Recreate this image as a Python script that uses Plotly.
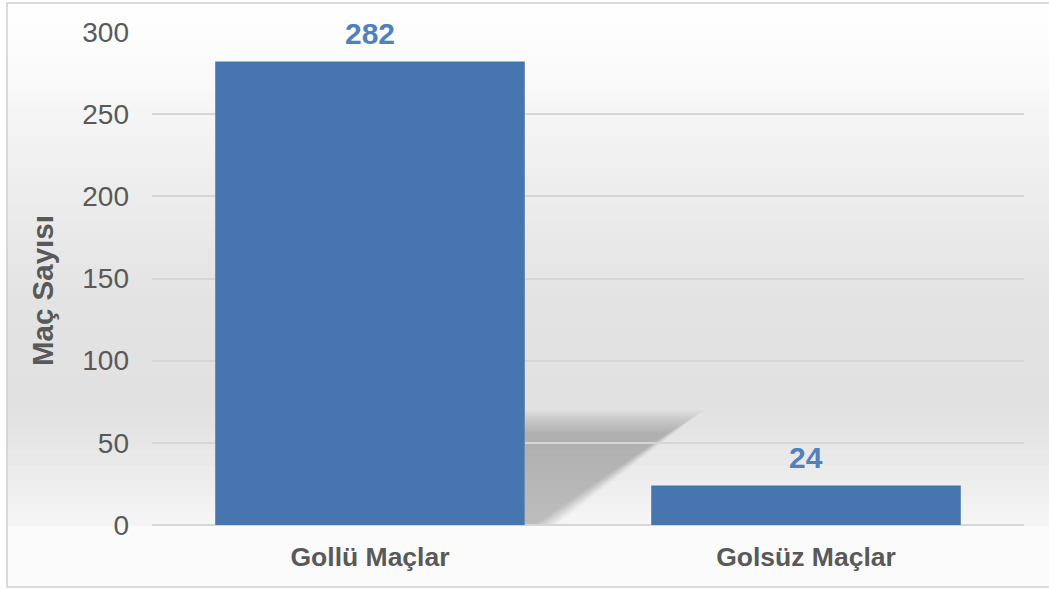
import plotly.graph_objects as go

categories = ["Gollü Maçlar", "Golsüz Maçlar"]
values = [282, 24]
y_ticks = [0, 50, 100, 150, 200, 250, 300]
y_title = "Maç Sayısı"

W, H = 1049, 590
L, R, T, B = 152, 25, 32, 65
plot_h = H - T - B
plot_w = W - L - R

def py_to_paper(py):
    return (H - B - py) / plot_h

def px_to_paper(px):
    return (px - L) / plot_w

# background gradient stops (pixel y, gray level)
stops = [(3, 255), (60, 251), (190, 237), (300, 227), (400, 225), (450, 231), (500, 241), (526, 246)]

def gray_at(py):
    for (y0, g0), (y1, g1) in zip(stops, stops[1:]):
        if y0 <= py <= y1:
            t = (py - y0) / (y1 - y0)
            return g0 + (g1 - g0) * t
    return stops[-1][1]

shapes = []
n = 70
y_start, y_end = 3, 526
for i in range(n):
    a = y_start + (y_end - y_start) * i / n
    b = y_start + (y_end - y_start) * (i + 1) / n
    g = int(round(gray_at((a + b) / 2)))
    shapes.append(dict(type="rect", xref="paper", yref="paper",
                       x0=px_to_paper(7), x1=px_to_paper(1060),
                       y0=py_to_paper(b + 0.5), y1=py_to_paper(a),
                       fillcolor=f"rgb({g},{g},{g})", line=dict(width=0), layer="below"))
shapes.append(dict(type="rect", xref="paper", yref="paper",
                   x0=px_to_paper(7), x1=px_to_paper(1060),
                   y0=py_to_paper(587), y1=py_to_paper(526),
                   fillcolor="rgb(251,251,251)", line=dict(width=0), layer="below"))
# outer frame
shapes.append(dict(type="rect", xref="paper", yref="paper",
                   x0=px_to_paper(7), x1=px_to_paper(1060),
                   y0=py_to_paper(587), y1=py_to_paper(3),
                   fillcolor="rgba(0,0,0,0)", line=dict(width=1.5, color="#d0d0d0"), layer="below"))

# soft drop shadow behind the tall bar (decoration)
def path(points):
    return "M " + " L ".join(f"{px_to_paper(x):.5f},{py_to_paper(y):.5f}" for x, y in points) + " Z"

k_layers = 12
for k in range(k_layers):
    t = k / (k_layers - 1)
    top = 410 + 22 * t
    right = 704 - 34 * t
    foot = 556 - 22 * t
    shapes.append(dict(type="path", xref="paper", yref="paper",
                       path=path([(525, top), (right, top), (foot, 525), (525, 525)]),
                       fillcolor="rgba(0,0,0,0.018)", line=dict(width=0), layer="below"))

font_family = "Liberation Sans, Arial, sans-serif"

fig = go.Figure()
fig.add_trace(go.Bar(
    x=categories, y=values, width=0.71,
    marker=dict(color="#4675b0", line=dict(width=0)),
    hoverinfo="x+y",
))

annotations = [dict(
    text=f"<b>{y_title}</b>", textangle=-90,
    xref="paper", yref="paper",
    x=px_to_paper(42), y=py_to_paper(291),
    xanchor="center", yanchor="middle", showarrow=False,
    font=dict(family=font_family, size=29.5, color="#595959"),
)]
for c, v in zip(categories, values):
    annotations.append(dict(
        x=c, y=v, xref="x", yref="y", text=f"<b>{v}</b>", showarrow=False,
        xanchor="center", yanchor="bottom", yshift=10,
        font=dict(family=font_family, size=30, color="#4f81bd"),
    ))

fig.update_layout(
    width=W, height=H,
    margin=dict(l=L, r=R, t=T, b=B, pad=0),
    paper_bgcolor="white",
    plot_bgcolor="rgba(0,0,0,0)",
    showlegend=False,
    shapes=shapes,
    xaxis=dict(
        showgrid=False, showline=False, zeroline=False,
        tickfont=dict(family=font_family, size=26.5, color="#595959", weight="bold"),
        ticks="", ticklabelstandoff=13,
    ),
    yaxis=dict(
        range=[0, 300], tickvals=y_ticks,
        showgrid=True, gridcolor="#d6d6d6", gridwidth=1.5,
        zeroline=True, zerolinecolor="#d6d6d6", zerolinewidth=1.5,
        showline=False, ticks="", ticklabelstandoff=22,
        tickfont=dict(family=font_family, size=28, color="#595959"),
    ),
    annotations=annotations,
)

fig.write_html("out.html", config={"displayModeBar": False},
               post_script="document.body.style.margin='0';document.body.style.overflow='hidden';")
